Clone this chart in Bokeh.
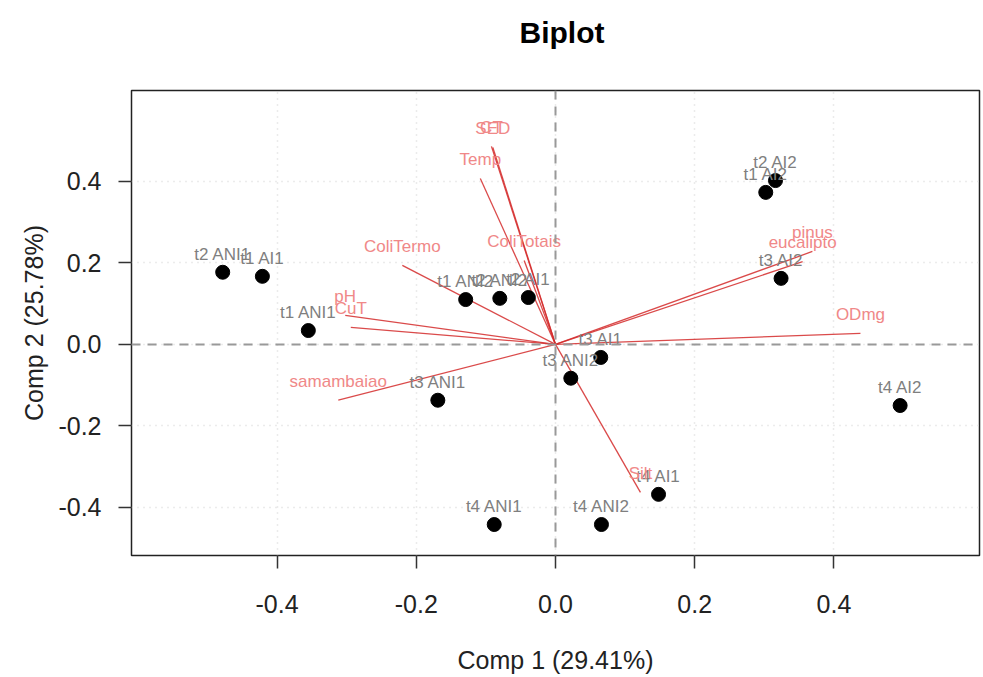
from bokeh.plotting import figure
from bokeh.models import Range1d, FixedTicker, PrintfTickFormatter, Span, ColumnDataSource, Div
from bokeh.layouts import column
from bokeh.core.properties import value
from bokeh.embed import file_html
from bokeh.resources import INLINE

# Scores (observations)
obs_labels = ["t2 ANI1", "t1 AI1", "t1 ANI1", "t1 ANI2", "t2 ANI2", "t2 AI1", "t3 ANI1",
              "t3 AI1", "t3 ANI2", "t4 ANI1", "t4 ANI2", "t4 AI1", "t1 AI2", "t2 AI2",
              "t3 AI2", "t4 AI2"]
comp1 = [-0.478, -0.421, -0.355, -0.129, -0.080, -0.039, -0.169,
         0.065, 0.022, -0.088, 0.066, 0.148, 0.302, 0.316,
         0.324, 0.495]
comp2 = [0.177, 0.167, 0.034, 0.110, 0.113, 0.115, -0.137,
         -0.032, -0.083, -0.442, -0.442, -0.368, 0.373, 0.402,
         0.162, -0.150]

# Loadings (variables)
var_labels = ["CT", "SED", "Temp", "ColiTotais", "ColiTermo", "pH", "CuT",
              "samambaiao", "ODmg", "pinus", "eucalipto", "Silt"]
load1 = [-0.092, -0.090, -0.108, -0.045, -0.220, -0.302, -0.294,
         -0.312, 0.438, 0.369, 0.355, 0.122]
load2 = [0.486, 0.483, 0.407, 0.206, 0.194, 0.071, 0.042,
         -0.137, 0.027, 0.228, 0.203, -0.363]

tick_vals = [-0.4, -0.2, 0.0, 0.2, 0.4]
title_text = "Biplot"

FONT = "Liberation Sans"

p = figure(width=981, height=587, output_backend="svg", toolbar_location=None,
           x_range=Range1d(-0.609, 0.609), y_range=Range1d(-0.518, 0.623),
           min_border_left=131, min_border_right=2, min_border_top=1,
           min_border_bottom=121, title=None)

p.outline_line_color = "#222222"
p.outline_line_width = 1.5
p.background_fill_color = "white"
p.border_fill_color = "white"

for ax, lab in ((p.xaxis[0], "Comp 1 (29.41%)"), (p.yaxis[0], "Comp 2 (25.78%)")):
    ax.ticker = FixedTicker(ticks=tick_vals)
    ax.formatter = PrintfTickFormatter(format="%.1f")
    ax.axis_line_color = None
    ax.major_tick_in = 0
    ax.major_tick_out = 13
    ax.major_tick_line_color = "#333333"
    ax.major_tick_line_width = 1.5
    ax.minor_tick_line_color = None
    ax.major_label_text_font = FONT
    ax.major_label_text_font_size = "25px"
    ax.major_label_text_color = "#222222"
    ax.axis_label = lab
    ax.axis_label_text_font = FONT
    ax.axis_label_text_font_size = "25px"
    ax.axis_label_text_font_style = "normal"
    ax.axis_label_text_color = "#222222"

p.xaxis[0].major_label_standoff = 26
p.xaxis[0].axis_label_standoff = 30
p.yaxis[0].major_label_standoff = 17
p.yaxis[0].major_label_orientation = "horizontal"
p.yaxis[0].axis_label_standoff = 7

p.grid.ticker = FixedTicker(ticks=tick_vals)
p.grid.grid_line_color = "#d8d8d8"
p.grid.grid_line_dash = "1 5"
p.grid.grid_line_width = 1.5

p.add_layout(Span(location=0, dimension="width", line_color="#999999",
                  line_dash="9 7", line_width=2))
p.add_layout(Span(location=0, dimension="height", line_color="#999999",
                  line_dash="9 7", line_width=2))

obs = ColumnDataSource(dict(x=comp1, y=comp2, lab=obs_labels))
var = ColumnDataSource(dict(x0=[0.0] * len(load1), y0=[0.0] * len(load1),
                            x=load1, y=load2, lab=var_labels))

p.segment(x0="x0", y0="y0", x1="x", y1="y", source=var,
          line_color="#d42a2a", line_width=1.3, line_alpha=0.85)

p.scatter(x="x", y="y", source=obs, size=14, fill_color="black", line_color="black")

p.text(x="x", y="y", text="lab", source=obs, y_offset=-18,
       text_align="center", text_baseline="middle",
       text_font=value(FONT), text_font_size="17px", text_color="#7f7f7f")

p.text(x="x", y="y", text="lab", source=var, y_offset=-19,
       text_align="center", text_baseline="middle",
       text_font=value(FONT), text_font_size="17px", text_color="#f08888")

title_html = (
    '<div style="width:981px;height:79px;position:relative;">'
    '<span style="position:absolute;left:557px;top:28px;transform:translate(-50%,-50%);'
    "font-family:'Liberation Sans',Arial,sans-serif;font-size:30px;font-weight:bold;"
    'color:black;white-space:nowrap;line-height:1.15;">' + title_text + '</span></div>'
)
title_div = Div(text=title_html, width=981, height=79)

layout = column(title_div, p, spacing=0)

open("out.html", "w").write(file_html(layout, INLINE))
